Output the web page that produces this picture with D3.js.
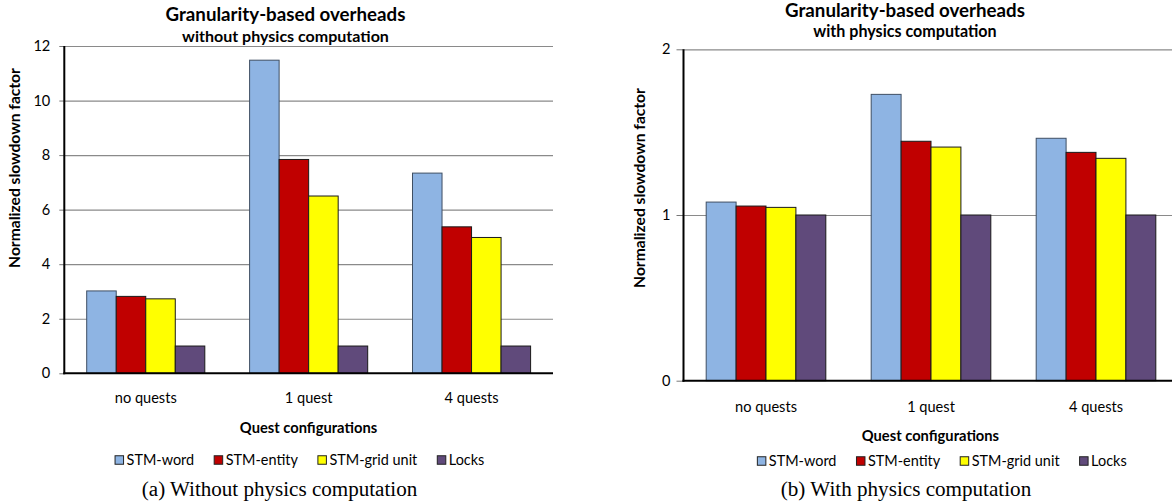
<!DOCTYPE html>
<html><head><meta charset="utf-8">
<script src="https://cdn.jsdelivr.net/npm/d3@7"></script>
<style>body{margin:0;background:#fff}svg{display:block}</style>
</head><body>
<svg id="c" width="1172" height="503"></svg>
<script>
// ---- data ----
const categories = ["no quests", "1 quest", "4 quests"];
const seriesNames = ["STM-word", "STM-entity", "STM-grid unit", "Locks"];
const seriesColors = ["#8EB4E3", "#C00000", "#FFFF00", "#604A7B"];
// (a) without physics computation
const noPhysicsWord   = [3.02, 11.48, 7.34];
const noPhysicsEntity = [2.82, 7.84, 5.37];
const noPhysicsGrid   = [2.73, 6.50, 4.98];
const noPhysicsLocks  = [1.00, 1.00, 1.00];
// (b) with physics computation
const physicsWord   = [1.078, 1.728, 1.463];
const physicsEntity = [1.054, 1.445, 1.378];
const physicsGrid   = [1.046, 1.410, 1.342];
const physicsLocks  = [1.000, 1.000, 1.000];
const leftTicks  = [0, 2, 4, 6, 8, 10, 12];
const rightTicks = [0, 1, 2];

const SANS = "Lato, 'Open Sans', sans-serif";
const SERIF = "'Liberation Serif', 'DejaVu Serif', serif";
const svg = d3.select("#c");
svg.append("rect").attr("width", 1172).attr("height", 503).attr("fill", "#fff");

// measurement helper: font size that gives text a target width
const meas = svg.append("text").attr("x", -1000).attr("y", -1000);
function fitSize(text, family, weight, target) {
  meas.attr("font-family", family).attr("font-weight", weight).attr("font-size", 20).text(text);
  const w = meas.node().getComputedTextLength();
  return 20 * target / w;
}

const panels = [
  {
    values: [noPhysicsWord, noPhysicsEntity, noPhysicsGrid, noPhysicsLocks],
    ticks: leftTicks, domain: [0, 12],
    x0: 64.3, x1: 553, yTop: 46, yBot: 373.3,
    stub: 5, tickPad: 9,
    title: "Granularity-based overheads", titleX: 285.5, titleY: 20.7,
    subtitle: "without physics computation", subY: 41.5, subW: 207,
    xLabelY: 403, axisTitleY: 433, axisTitleX: 308.5,
    legendY: 460, legendCx: 299.7,
    yTitleX: 15, yTitleY: 168,
    caption: "(a) Without physics computation", captionX: 279.5, captionY: 496, captionW: 275.6
  },
  {
    values: [physicsWord, physicsEntity, physicsGrid, physicsLocks],
    ticks: rightTicks, domain: [0, 2],
    x0: 683.5, x1: 1178.5, yTop: 49.3, yBot: 380.7,
    stub: 7, tickPad: 6,
    title: "Granularity-based overheads", titleX: 905, titleY: 17.3,
    subtitle: "with physics computation", subY: 37.3, subW: 183.4,
    xLabelY: 411.5, axisTitleY: 441, axisTitleX: 930.4,
    legendY: 461, legendCx: 942,
    yTitleX: 640, yTitleY: 188,
    caption: "(b) With physics computation", captionX: 906, captionY: 496, captionW: 250.7
  }
];

const titleSize = fitSize("Granularity-based overheads", SANS, "bold", 240);
const labelSize = fitSize("no quests", SANS, "normal", 62);
const legendSize = fitSize("STM-grid unit", SANS, "normal", 88);
const axisTitleSize = fitSize("Quest configurations", SANS, "bold", 137.4);
const yTitleSize = fitSize("Normalized slowdown factor", SANS, "bold", 200);

panels.forEach(p => {
  const g = svg.append("g");
  const x = d3.scaleBand().domain(categories).range([p.x0, p.x1])
    .paddingInner(0.275).paddingOuter(0.1375);
  const xs = d3.scaleBand().domain(seriesNames).range([0, x.bandwidth()]);
  const y = d3.scaleLinear().domain(p.domain).range([p.yBot, p.yTop]);

  // gridlines
  g.append("g").attr("transform", `translate(${p.x0},0)`)
    .call(d3.axisRight(y).tickValues(p.ticks.filter(t => t > 0)).tickSize(p.x1 - p.x0).tickFormat(""))
    .call(a => a.select(".domain").remove())
    .call(a => a.selectAll("line").attr("stroke", "#8a8a8a").attr("stroke-width", 1.2));
  // outward tick stubs + labels
  g.append("g").attr("transform", `translate(${p.x0},0)`)
    .call(d3.axisLeft(y).tickValues(p.ticks).tickSize(p.stub).tickPadding(p.tickPad).tickFormat(d3.format("d")))
    .call(a => a.select(".domain").remove())
    .call(a => a.selectAll("line").attr("stroke", "#777"))
    .call(a => a.selectAll("text").attr("font-family", SANS).attr("font-size", labelSize).attr("fill", "#000"));

  // bars
  seriesNames.forEach((s, si) => {
    g.append("g").selectAll("rect").data(categories).join("rect")
      .attr("x", c => x(c) + xs(s))
      .attr("y", (c, i) => y(p.values[si][i]))
      .attr("width", xs.bandwidth())
      .attr("height", (c, i) => y(0) - y(p.values[si][i]))
      .attr("fill", seriesColors[si])
      .attr("stroke", si === 0 ? "#3f4f63" : "#1a1a1a")
      .attr("stroke-width", 1);
  });

  // axes lines
  g.append("line").attr("x1", p.x0).attr("x2", p.x0).attr("y1", p.yTop).attr("y2", p.yBot + 1)
    .attr("stroke", "#000").attr("stroke-width", 2);
  g.append("line").attr("x1", p.x0 - 1).attr("x2", p.x1).attr("y1", p.yBot).attr("y2", p.yBot)
    .attr("stroke", "#000").attr("stroke-width", 2);

  // category labels
  g.append("g").selectAll("text").data(categories).join("text")
    .attr("x", c => x(c) + x.bandwidth() / 2).attr("y", p.xLabelY)
    .attr("text-anchor", "middle").attr("font-family", SANS).attr("font-size", labelSize)
    .text(c => c);

  // titles
  g.append("text").attr("x", p.titleX).attr("y", p.titleY).attr("text-anchor", "middle")
    .attr("font-family", SANS).attr("font-weight", "bold").attr("font-size", titleSize).text(p.title);
  g.append("text").attr("x", p.titleX).attr("y", p.subY).attr("text-anchor", "middle")
    .attr("font-family", SANS).attr("font-weight", "bold")
    .attr("font-size", fitSize(p.subtitle, SANS, "bold", p.subW)).text(p.subtitle);

  // axis titles
  g.append("text").attr("x", p.axisTitleX).attr("y", p.axisTitleY).attr("text-anchor", "middle")
    .attr("font-family", SANS).attr("font-weight", "bold").attr("font-size", axisTitleSize)
    .text("Quest configurations");
  g.append("text").attr("transform", `translate(${p.yTitleX + 4.5},${p.yTitleY}) rotate(-90)`)
    .attr("text-anchor", "middle").attr("font-family", SANS).attr("font-weight", "bold")
    .attr("font-size", yTitleSize).text("Normalized slowdown factor");

  // legend
  const lg = g.append("g");
  const sq = 8.5, gapT = 3, gapI = 20;
  let cx = 0;
  const items = seriesNames.map((s, i) => {
    meas.attr("font-family", SANS).attr("font-weight", "normal").attr("font-size", legendSize).text(s);
    const w = meas.node().getComputedTextLength();
    const it = { s, i, x: cx, w };
    cx += sq + gapT + w + gapI;
    return it;
  });
  const total = cx - gapI;
  const startX = p.legendCx - total / 2;
  items.forEach(it => {
    lg.append("rect").attr("x", startX + it.x).attr("y", p.legendY - sq / 2)
      .attr("width", sq).attr("height", sq).attr("fill", seriesColors[it.i])
      .attr("stroke", "#222").attr("stroke-width", 1);
    lg.append("text").attr("x", startX + it.x + sq + gapT).attr("y", p.legendY + legendSize * 0.36)
      .attr("font-family", SANS).attr("font-size", legendSize).text(it.s);
  });

  // caption
  g.append("text").attr("x", p.captionX).attr("y", p.captionY).attr("text-anchor", "middle")
    .attr("font-family", SERIF).attr("font-size", fitSize(p.caption, SERIF, "normal", p.captionW))
    .text(p.caption);
});
meas.remove();
</script>
</body></html>
